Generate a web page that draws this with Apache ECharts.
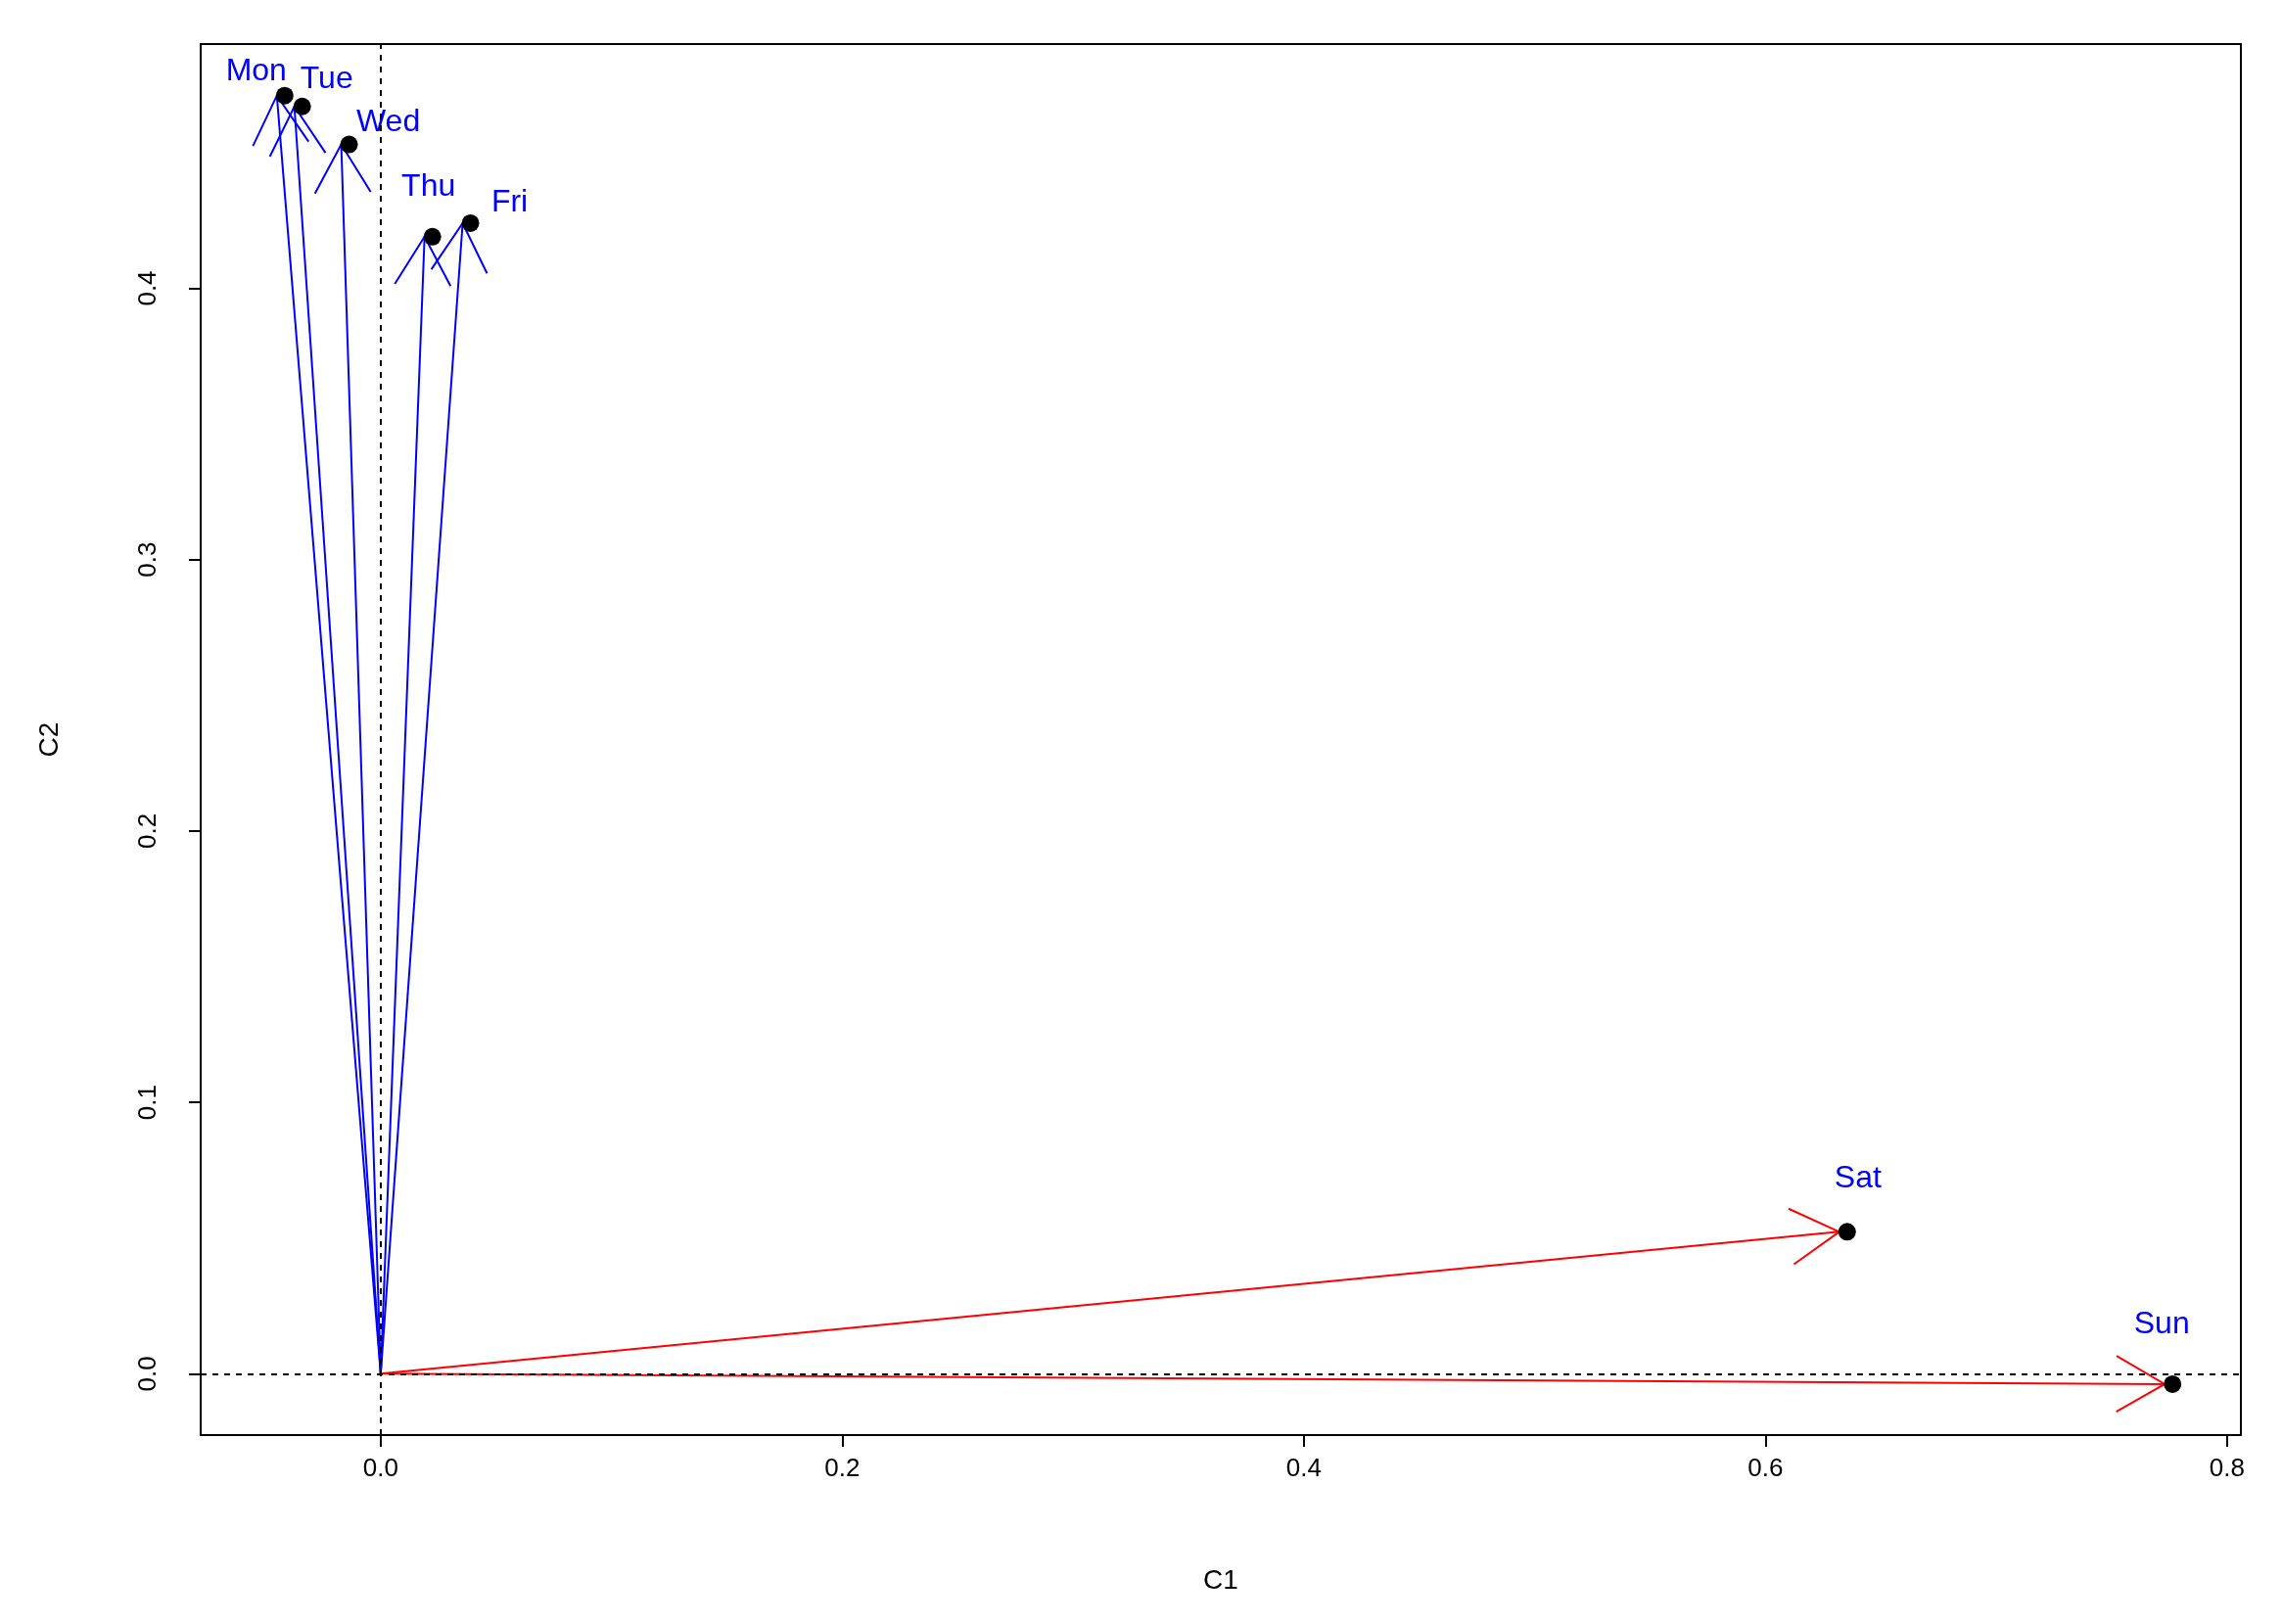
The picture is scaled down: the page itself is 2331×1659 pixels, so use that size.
<!DOCTYPE html>
<html>
<head>
<meta charset="utf-8">
<script src="https://cdn.jsdelivr.net/npm/echarts@6/dist/echarts.min.js"></script>
<style>html,body{margin:0;padding:0;background:#fff}#main{width:2331px;height:1659px}</style>
</head>
<body>
<div id="main"></div>
<script>
var days = ['Mon', 'Tue', 'Wed', 'Thu', 'Fri', 'Sat', 'Sun'];
var c1 = [-0.045, -0.0374, -0.0171, 0.019, 0.0355, 0.632, 0.773];
var c2 = [0.471, 0.467, 0.453, 0.419, 0.424, 0.0523, -0.0038];
var arrowColors = ['#0000ff', '#0000ff', '#0000ff', '#0000ff', '#0000ff', '#ff0000', '#ff0000'];
var xTicks = [0, 0.2, 0.4, 0.6, 0.8];
var yTicks = [0, 0.1, 0.2, 0.3, 0.4];
// label offsets in px from the point
var labelDx = [-21, 33, 48, 4, 48, 19, -3];
var labelDy = [-24, -28, -22, -51, -21, -54, -61];

var FONT = 'Liberation Sans, Arial, sans-serif';
var myChart = echarts.init(document.getElementById('main'));

var pts = days.map(function(d, i) { return [c1[i], c2[i], i]; });

function renderArrow(params, api) {
    var i = api.value(2);
    var o = api.coord([0, 0]);
    var p = api.coord([api.value(0), api.value(1)]);
    var ang = Math.atan2(p[1] - o[1], p[0] - o[0]);
    var L = 57, a = Math.PI / 6;
    var h1 = [p[0] - L * Math.cos(ang - a), p[1] - L * Math.sin(ang - a)];
    var h2 = [p[0] - L * Math.cos(ang + a), p[1] - L * Math.sin(ang + a)];
    var col = arrowColors[i];
    return {
        type: 'group',
        children: [
            { type: 'line', shape: { x1: o[0], y1: o[1], x2: p[0], y2: p[1] }, style: { stroke: col, lineWidth: 2 } },
            { type: 'polyline', shape: { points: [h1, p, h2] }, style: { stroke: col, lineWidth: 2, fill: null } },
            { type: 'circle', shape: { cx: p[0] + 8, cy: p[1], r: 9 }, style: { fill: '#000' } },
            { type: 'text', x: p[0] + labelDx[i], y: p[1] + labelDy[i],
              style: { text: days[i], fill: '#0000ff', font: '32px ' + FONT, align: 'center', verticalAlign: 'middle' } }
        ]
    };
}

var option = {
    animation: false,
    backgroundColor: '#fff',
    grid: { left: 205, right: 42, top: 45, bottom: 193, show: true, borderColor: '#000', borderWidth: 2 },
    xAxis: {
        type: 'value', min: -0.078, max: 0.806,
        name: 'C1', nameLocation: 'middle', nameGap: 135,
        nameTextStyle: { fontFamily: FONT, fontSize: 28, color: '#000' },
        splitLine: { show: false },
        axisLine: { show: true, onZero: false, lineStyle: { color: '#000', width: 2 } },
        axisTick: { show: true, length: 12, customValues: xTicks, lineStyle: { color: '#000', width: 2 } },
        axisLabel: { customValues: xTicks, margin: 22, fontFamily: FONT, fontSize: 26, color: '#000',
            formatter: function(v) { return v.toFixed(1); } }
    },
    yAxis: {
        type: 'value', min: -0.0226, max: 0.49,
        name: 'C2', nameLocation: 'middle', nameGap: 140, nameRotate: 90,
        nameTextStyle: { fontFamily: FONT, fontSize: 28, color: '#000' },
        splitLine: { show: false },
        axisLine: { show: true, onZero: false, lineStyle: { color: '#000', width: 2 } },
        axisTick: { show: true, length: 12, customValues: yTicks, lineStyle: { color: '#000', width: 2 } },
        axisLabel: { customValues: yTicks, rotate: 90, margin: 40, fontFamily: FONT, fontSize: 26, color: '#000',
            formatter: function(v) { return v.toFixed(1); } }
    },
    series: [{
        type: 'custom',
        renderItem: renderArrow,
        data: pts,
        clip: false,
        markLine: {
            silent: true, symbol: 'none', label: { show: false },
            lineStyle: { color: '#000', type: [6, 6], width: 2 },
            data: [{ xAxis: 0 }, { yAxis: 0 }]
        }
    }]
};
myChart.setOption(option);
</script>
</body>
</html>
